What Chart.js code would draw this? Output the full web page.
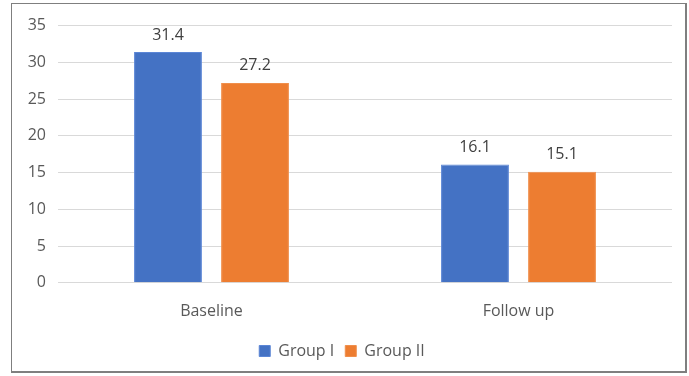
<!DOCTYPE html>
<html>
<head>
<meta charset="utf-8">
<script src="https://cdn.jsdelivr.net/npm/chart.js@4/dist/chart.umd.min.js"></script>
<style>
  html, body { margin: 0; padding: 0; background: #fff; }
  #marco {
    position: absolute; left: 11px; top: 3px;
    width: 676px; height: 370px;
    border: 1px solid #7f7f7f; border-right-width: 2px; border-bottom-width: 2px;
    box-sizing: border-box;
  }
  #grafico { display: block; }
</style>
</head>
<body>
<div id="marco"><canvas id="grafico" width="673" height="367"></canvas></div>
<script>
// Datos
const categorias = ['Baseline', 'Follow up'];
const grupo1 = [31.4, 16.1];
const grupo2 = [27.2, 15.1];
const ticksY = [0, 5, 10, 15, 20, 25, 30, 35];

// Etiquetas encima de cada barra
const etiquetas = {
  id: 'etiquetas',
  afterDatasetsDraw(chart) {
    const c = chart.ctx;
    c.save();
    c.font = '16px "Open Sans", sans-serif';
    c.fillStyle = '#404040';
    c.textAlign = 'center';
    c.textBaseline = 'bottom';
    chart.data.datasets.forEach((ds, i) => {
      chart.getDatasetMeta(i).data.forEach((bar, j) => {
        c.fillText(ds.data[j].toFixed(1), bar.x, bar.y - 9);
      });
    });
    c.restore();
  }
};

const fuente = '"Open Sans", sans-serif';
const ctx = document.getElementById('grafico').getContext('2d');
new Chart(ctx, {
  type: 'bar',
  data: {
    labels: categorias,
    datasets: [
      { label: 'Group I', data: grupo1, backgroundColor: '#4472C4', borderColor: '#5b86d6', borderWidth: 1,
        categoryPercentage: 0.567, barPercentage: 0.78 },
      { label: 'Group II', data: grupo2, backgroundColor: '#ED7D31', borderColor: '#f08f4c', borderWidth: 1,
        categoryPercentage: 0.567, barPercentage: 0.78 }
    ]
  },
  options: {
    responsive: false,
    animation: false,
    layout: { padding: { left: 0, right: 13, top: 8, bottom: 2 } },
    scales: {
      x: {
        grid: { display: false },
        border: { display: false },
        ticks: { color: '#595959', font: { family: fuente, size: 16 }, padding: 11 }
      },
      y: {
        min: 0, max: 35,
        afterBuildTicks(axis) { axis.ticks = ticksY.map(v => ({ value: v })); },
        afterFit(axis) { axis.width = 46; },
        grid: { color: '#d9d9d9', drawTicks: false },
        border: { display: false },
        ticks: { color: '#595959', font: { family: fuente, size: 16 }, padding: 12 }
      }
    },
    plugins: {
      legend: {
        position: 'bottom',
        labels: { boxWidth: 11, boxHeight: 11, color: '#595959', padding: 11,
          font: { family: fuente, size: 16 } }
      },
      tooltip: { enabled: false }
    }
  },
  plugins: [etiquetas]
});
</script>
</body>
</html>
